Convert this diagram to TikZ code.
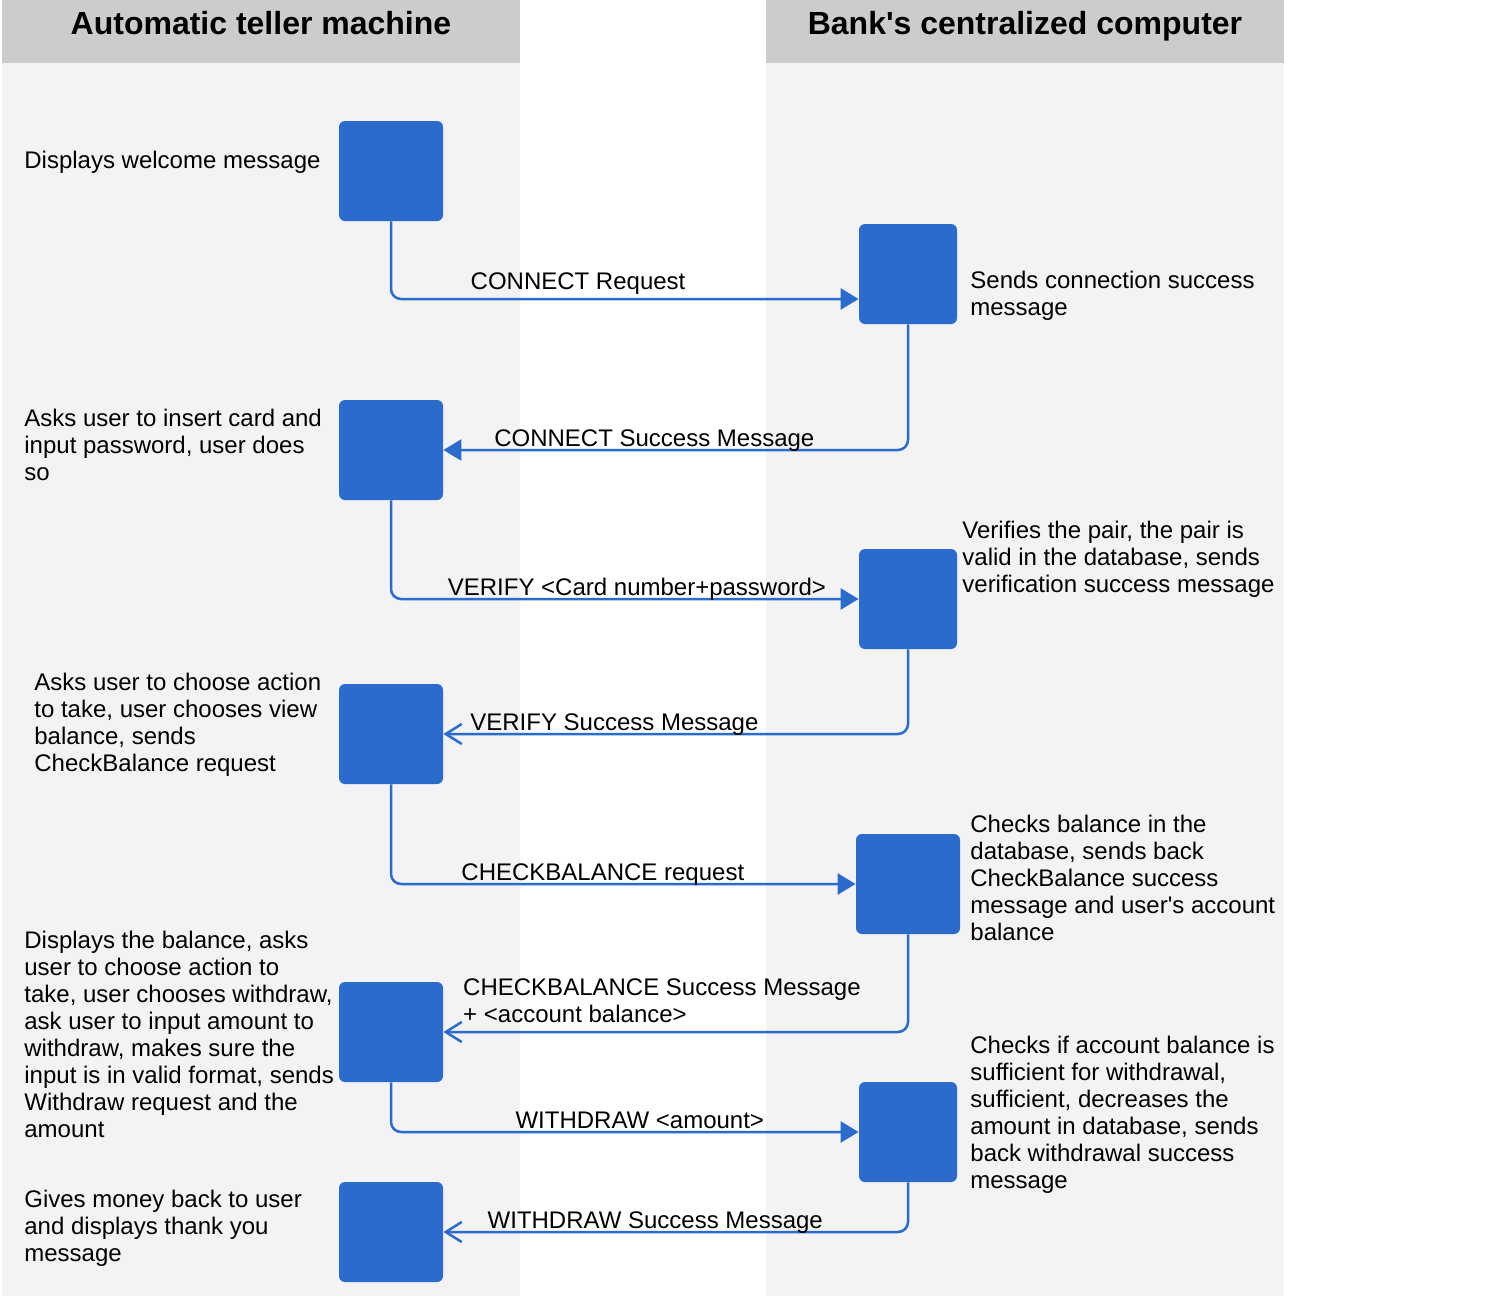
\documentclass[tikz,border=0pt]{standalone}
\usepackage{fontspec}
\setmainfont{Liberation Sans}
\usetikzlibrary{arrows.meta,positioning}
\definecolor{boxblue}{HTML}{2A6BCC}
\definecolor{lanegrey}{HTML}{F3F3F5}
\definecolor{headgrey}{HTML}{CCCCCC}

\begin{document}
\begin{tikzpicture}
        [x=0.5pt, y=-0.5pt, font=\fontsize{12}{13.5}\selectfont,
         actbox/.style={fill=boxblue, rounded corners=3pt, minimum width=52pt, minimum height=50pt, inner sep=0pt},
         head/.style={font=\fontsize{16}{19}\selectfont\bfseries, anchor=base},
         note/.style={align=left, anchor=west, inner sep=0pt},
         msg/.style={text=black, anchor=base, yshift=2pt, inner sep=0pt},
         flow/.style={boxblue, line width=1.25pt, rounded corners=5pt},
         req/.style={flow, -{Triangle[length=9pt,width=10.5pt]}},
         rep/.style={flow, -{Straight Barb[length=8pt,width=10pt]}}]

        \useasboundingbox (0,0) rectangle (1494,1296);
        
        % swim lanes
        \fill[lanegrey] (2,63) rectangle (520,1296);
        \fill[headgrey] (2,0) rectangle (520,63);
        \fill[lanegrey] (766,63) rectangle (1284,1296);
        \fill[headgrey] (766,0) rectangle (1284,63);
        \node [head] (atmhead)  at (261,34)  {Automatic teller machine};
        \node [head] (bankhead) at (1025,34) {Bank\textquotesingle s centralized computer};
        
        % activity boxes
        \node [actbox] (atmA) at (391,171)  {};
        \node [actbox] (atmB) at (391,450)  {};
        \node [actbox] (atmC) at (391,734)  {};
        \node [actbox] (atmD) at (391,1032) {};
        \node [actbox] (atmE) at (391,1232) {};
        
        \node [actbox, minimum width=49pt] (bankA) at (908,274)  {};
        \node [actbox, minimum width=49pt] (bankB) at (908,599)  {};
        \node [actbox]                     (bankC) at (908,884)  {};
        \node [actbox, minimum width=49pt] (bankD) at (908,1132) {};
        
        % descriptions
        \node [note] (welcome) at (24,162)    {Displays welcome message};
        \node [note] (connok)  at (970,295.5) {Sends connection success\\message};
        \node [note] (insert)  at (24,445)    {Asks user to insert card and\\input password, user does\\so};
        \node [note] (verify)  at (962,559)   {Verifies the pair, the pair is\\valid in the database, sends\\verification success message};
        \node [note] (choose)  at (34,724.5)  {Asks user to choose action\\to take, user chooses view\\balance, sends\\CheckBalance request};
        \node [note] (checks)  at (970,878)   {Checks balance in the\\database, sends back\\CheckBalance success\\message and user\textquotesingle s account\\balance};
        \node [note] (shows)   at (24,1034.5) {Displays the balance, asks\\user to choose action to\\take, user chooses withdraw,\\ask user to input amount to\\withdraw, makes sure the\\input is in valid format, sends\\Withdraw request and the\\amount};
        \node [note] (debit)   at (970,1115) {Checks if account balance is\\sufficient for withdrawal,\\sufficient, decreases the\\amount in database, sends\\back withdrawal success\\message};
        \node [note] (thanks)  at (24,1228)   {Gives money back to user\\and displays thank you\\message};
        
        % messages
        \draw[req] (atmA.south) |- node[msg, pos=0.70, yshift=3pt] {CONNECT Request} ([yshift=-12.5pt]bankA.west);
        \draw[req] (bankA.south) |- node[msg, pos=0.773] {CONNECT Success Message} (atmB.east);
        \draw[req] (atmB.south) |- node[msg, pos=0.763] {VERIFY <Card number+password>} (bankB.west);
        \draw[rep] (bankB.south) |- node[msg, pos=0.816] {VERIFY Success Message} (atmC.east);
        \draw[req] (atmC.south) |- node[msg, pos=0.728] {CHECKBALANCE request} (bankC.west);
        \draw[rep] (bankC.south) |- node[text=black, align=left, anchor=south west, inner sep=0pt, yshift=4pt, pos=0.98] {CHECKBALANCE Success Message\\+ <account balance>} (atmD.east);
        \draw[req] (atmD.south) |- node[msg, pos=0.766] {WITHDRAW <amount>} (bankD.west);
        \draw[rep] (bankD.south) |- node[msg, pos=0.772] {WITHDRAW Success Message} (atmE.east);
\end{tikzpicture}
\end{document}
